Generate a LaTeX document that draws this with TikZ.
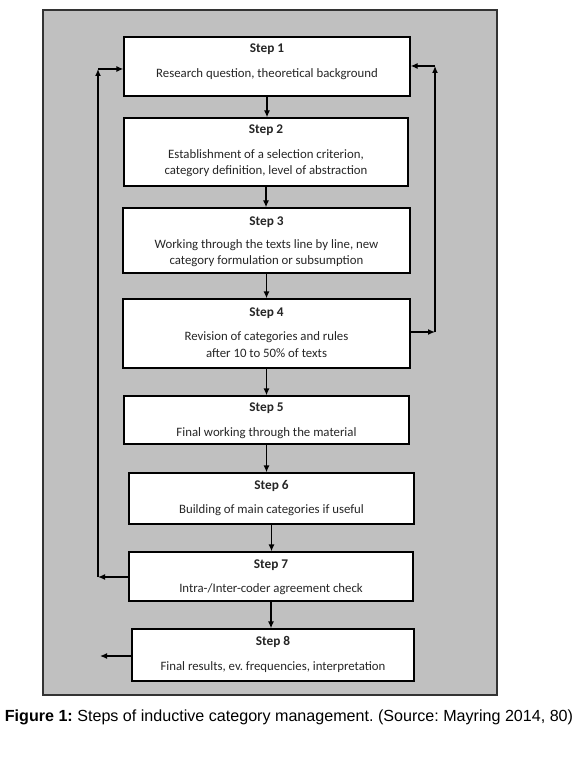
\documentclass[tikz,border=0pt]{standalone}
\usepackage{fontspec}
\setmainfont{Carlito}
\newfontfamily\capfont{Liberation Sans}
\usetikzlibrary{arrows.meta}
\frenchspacing
\definecolor{bggrey}{HTML}{C0C0C0}
\definecolor{txt}{HTML}{262626}
\tikzset{
  box/.style={draw=black, line width=1.3pt, fill=white, inner sep=0pt},
  steplbl/.style={font=\fontsize{13.3}{15}\selectfont\bfseries, text=txt, inner sep=0pt},
  bodytxt/.style={font=\fontsize{12.8}{16.5}\selectfont, text=txt, align=center, inner sep=0pt},
  arr/.style={draw=black, line width=1.3pt, -{Latex[length=7pt,width=6pt]}},
}
\newcommand{\mkbox}[5]{%
  \node[box, minimum width={#4-#2}, minimum height={#5-#3}] (#1) at ({(#2+#4)/2},{(#3+#5)/2}) {};}
\begin{document}
\begin{tikzpicture}[x=1pt,y=-1pt]
\useasboundingbox (0,0) rectangle (580,767);
\fill[white] (0,0) rectangle (580,767);
\draw[fill=bggrey, draw=black!80, line width=1.3pt] (43,10) rectangle (497,695);
% boxes
\mkbox{s1}{124}{37}{410}{96}
\mkbox{s2}{124}{118}{408}{186}
\mkbox{s3}{123}{208}{410}{273}
\mkbox{s4}{123}{299}{410}{368}
\mkbox{s5}{124}{396}{409}{444}
\mkbox{s6}{129}{473}{414}{524}
\mkbox{s7}{129}{552}{413}{601}
\mkbox{s8}{132}{629}{414}{681}
% texts
\node[steplbl] (t1) at (s1.north |- 0,49) {Step 1};
\node[bodytxt] (b1) at (s1.north |- 0,74) {Research question, theoretical background};
\node[steplbl] (t2) at (s2.north |- 0,130) {Step 2};
\node[bodytxt] (b2) at (s2.north |- 0,163) {Establishment of a selection criterion,\\category definition, level of abstraction};
\node[steplbl] (t3) at (s3.north |- 0,222) {Step 3};
\node[bodytxt] (b3) at (s3.north |- 0,253) {Working through the texts line by line, new\\category formulation or subsumption};
\node[steplbl] (t4) at (s4.north |- 0,313) {Step 4};
\node[bodytxt] (b4) at (s4.north |- 0,344.5) {Revision of categories and rules\\after 10 to 50\% of texts};
\node[steplbl] (t5) at (s5.north |- 0,408) {Step 5};
\node[bodytxt] (b5) at (s5.north |- 0,433) {Final working through the material};
\node[steplbl] (t6) at (s6.north |- 0,486) {Step 6};
\node[bodytxt] (b6) at (s6.north |- 0,510) {Building of main categories if useful};
\node[steplbl] (t7) at (s7.north |- 0,565) {Step 7};
\node[bodytxt] (b7) at (s7.north |- 0,589) {Intra-/Inter-coder agreement check};
\node[steplbl] (t8) at (s8.north |- 0,642) {Step 8};
\node[bodytxt] (b8) at (s8.north |- 0,667) {Final results, ev. frequencies, interpretation};
% down arrows
\draw[arr] (s1.south) -- (s1.south |- s2.north);
\draw[arr] (s2.south) -- (s2.south |- s3.north);
\draw[arr] (s3.south) -- (s3.south |- s4.north);
\draw[arr] (s4.south) -- (s4.south |- s5.north);
\draw[arr] (s5.south) -- (s5.south |- s6.north);
\draw[arr] (s6.south) -- (s6.south |- s7.north);
\draw[arr] (s7.south) -- (s7.south |- s8.north);
% left feedback loop
\coordinate (L1) at (98,577);
\coordinate (L2) at (98,69);
\coordinate (L3) at (100,656);
\draw[arr] (s7.west |- L1) -- (L1);
\draw[arr] (L1) -- (L2);
\draw[arr] (L2) -- (L2 -| s1.west);
\draw[arr] (s8.west |- L3) -- (L3);
% right feedback loop
\coordinate (R1) at (435,332);
\coordinate (R2) at (435,66);
\draw[arr] (s4.east |- R1) -- (R1);
\draw[arr] (R1) -- (R2);
\draw[arr] (R2) -- (R2 -| s1.east);
% caption
\node[font=\capfont\fontsize{16.1}{18}\selectfont, inner sep=0pt] (cap) at (289,717) {\textbf{Figure 1:} Steps of inductive category management. (Source: Mayring 2014, 80)};
\end{tikzpicture}
\end{document}
